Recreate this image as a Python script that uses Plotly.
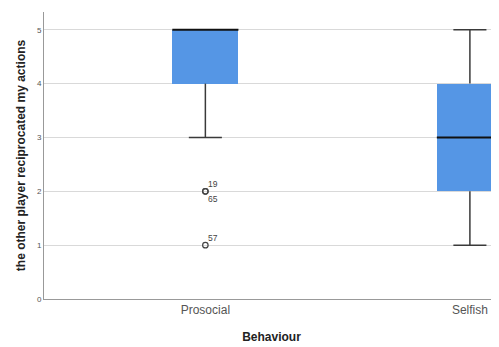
import plotly.graph_objects as go

categories = ["Prosocial", "Selfish"]
q1 = [4, 2]
median = [5, 3]
q3 = [5, 4]
lower_whisker = [3, 1]
upper_whisker = [5, 5]
outlier_cat = ["Prosocial", "Prosocial", "Prosocial"]
outlier_val = [2, 2, 1]
outlier_ids = ["19", "65", "57"]
y_ticks = [0, 1, 2, 3, 4, 5]

BOX_W = 0.25
CAP_W = 0.125
FILL = "#5596E5"

pos = {c: i for i, c in enumerate(categories)}
xs = [pos[c] for c in categories]

fig = go.Figure()

# boxes
fig.add_trace(go.Bar(
    x=xs, y=[b - a for a, b in zip(q1, q3)], base=q1, width=BOX_W,
    marker=dict(color=FILL, line=dict(width=0)), showlegend=False, hoverinfo="skip"))

# whiskers and caps
wx, wy = [], []
for x, lo, hi, a, b in zip(xs, lower_whisker, upper_whisker, q1, q3):
    if lo < a:
        wx += [x, x, None, x - CAP_W / 2, x + CAP_W / 2, None]
        wy += [a, lo, None, lo, lo, None]
    if hi > b:
        wx += [x, x, None, x - CAP_W / 2, x + CAP_W / 2, None]
        wy += [b, hi, None, hi, hi, None]
fig.add_trace(go.Scatter(x=wx, y=wy, mode="lines", line=dict(color="#3a3a3a", width=1.5),
                         showlegend=False, hoverinfo="skip"))

# medians
mx, my = [], []
for x, m in zip(xs, median):
    mx += [x - BOX_W / 2, x + BOX_W / 2, None]
    my += [m, m, None]
fig.add_trace(go.Scatter(x=mx, y=my, mode="lines", line=dict(color="#111111", width=2),
                         showlegend=False, hoverinfo="skip"))

# outliers
ox = [pos[c] for c in outlier_cat]
fig.add_trace(go.Scatter(x=ox, y=outlier_val, mode="markers",
                         marker=dict(symbol="circle-open", size=5.5, color="#444444", line=dict(width=1.2)),
                         showlegend=False, hoverinfo="skip"))
seen = {}
for x, v, t in zip(ox, outlier_val, outlier_ids):
    k = (x, v)
    n = seen.get(k, 0)
    seen[k] = n + 1
    fig.add_annotation(x=x, y=v, text=t, showarrow=False, xanchor="left",
                       yanchor="bottom" if n == 0 else "top",
                       xshift=1, yshift=0 if n == 0 else -1,
                       font=dict(size=8.5, color="#444444", family="Liberation Sans, Arial"))

# page body has an 8px default margin, so the figure is sized/offset to compensate
fig.update_layout(
    width=491, height=339,
    margin=dict(l=36, r=0, t=4, b=48),
    plot_bgcolor="white", paper_bgcolor="white",
    font=dict(family="Liberation Sans, Arial, sans-serif", color="#333333"),
    bargap=0,
    xaxis=dict(
        range=[-0.61, 1.11], tickvals=xs, ticktext=categories,
        showgrid=False, zeroline=False, showline=True, linecolor="#999999", linewidth=1,
        ticks="", tickfont=dict(size=12, color="#555555"), automargin=False,
        title=dict(text="<b>Behaviour</b>", font=dict(size=12, color="#222222"), standoff=16),
    ),
    yaxis=dict(
        range=[0, 5.33], tickvals=y_ticks, ticktext=[str(v) for v in y_ticks],
        showgrid=True, gridcolor="#d9d9d9", gridwidth=1, zeroline=False,
        showline=True, linecolor="#999999", linewidth=1,
        ticks="", tickfont=dict(size=8, color="#555555"), automargin=False,
        title=dict(text="<b>the other player reciprocated my actions</b>",
                   font=dict(size=12, color="#222222"), standoff=8),
    ),
)

fig.write_html("out.html")
